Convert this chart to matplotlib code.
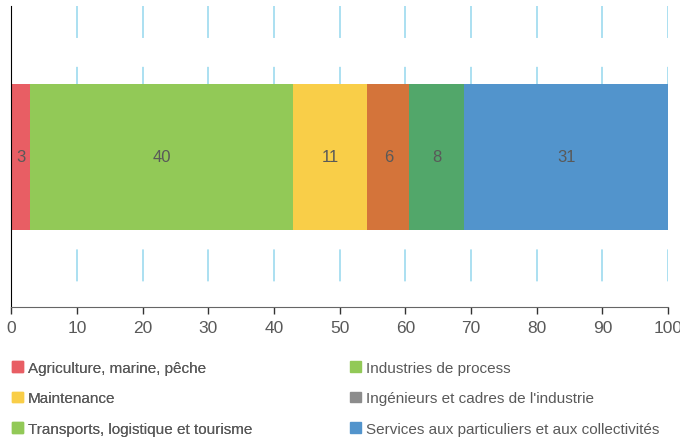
import matplotlib.pyplot as plt
from matplotlib.patches import Patch
from matplotlib import font_manager

# data
sectors = ['Agriculture, marine, pêche', 'Transports, logistique et tourisme', 'Maintenance',
           'Ingénieurs et cadres de l\'industrie', 'Industries de process',
           'Services aux particuliers et aux collectivités']
shares = [2.9, 40.0, 11.3, 6.4, 8.4, 31.0]
bar_colors = ['#E85E64', '#92C957', '#F9CE48', '#D4743A', '#52A76A', '#5294CC']

# legend entries, as they appear in the original (two columns)
legend_left = ['Agriculture, marine, pêche', 'Maintenance', 'Transports, logistique et tourisme']
legend_left_colors = ['#E85E64', '#F9CE48', '#92C957']
legend_right = ['Industries de process', 'Ingénieurs et cadres de l\'industrie',
                'Services aux particuliers et aux collectivités']
legend_right_colors = ['#92C957', '#8C8C8C', '#5294CC']
ticks = list(range(0, 101, 10))

names = {f.name for f in font_manager.fontManager.ttflist}
font = 'Liberation Sans Narrow' if 'Liberation Sans Narrow' in names else 'Liberation Sans'
plt.rcParams['font.family'] = [font, 'DejaVu Sans']
text_color = '#595959'

fig = plt.figure(figsize=(6.8, 4.39), dpi=100)
ax = fig.add_axes([0.0165, 0.298, 0.966, 0.686])

# dashed gridlines, drawn from the top down
for t in ticks[1:]:
    ax.plot([t, t], [1, 0], transform=ax.get_xaxis_transform(), color='#A5DDF0',
            lw=1.3, linestyle=(0, (17.7, 16)), zorder=0)

left = 0
for v, c in zip(shares, bar_colors):
    ax.barh(0, v, left=left, height=0.97, color=c, zorder=2)
    ax.text(left + v / 2, 0, f'{v:.0f}', ha='center', va='center', fontsize=12,
            color=text_color, zorder=3)
    left += v

ax.set_xlim(0, 100)
ax.set_ylim(-1, 1)
ax.set_xticks(ticks)
ax.set_yticks([])
ax.tick_params(axis='x', length=5, width=1, color='#333333', labelsize=12.5,
               labelcolor=text_color, pad=4)
for s in ['top', 'right']:
    ax.spines[s].set_visible(False)
ax.spines['left'].set_color('black')
ax.spines['bottom'].set_color('#666666')

leg_kw = dict(loc='upper left', frameon=False, fontsize=11, labelcolor=text_color,
              handlelength=0.7, handleheight=0.7, handletextpad=0.35, labelspacing=1.07,
              borderaxespad=0, borderpad=0)
h1 = [Patch(color=c, label=l) for l, c in zip(legend_left, legend_left_colors)]
h2 = [Patch(color=c, label=l) for l, c in zip(legend_right, legend_right_colors)]
fig.add_artist(fig.legend(handles=h1, bbox_to_anchor=(12 / 680, 1 - 362 / 439), **leg_kw))
fig.legend(handles=h2, bbox_to_anchor=(350 / 680, 1 - 362 / 439), **leg_kw)

plt.savefig('out.png', dpi=100)
